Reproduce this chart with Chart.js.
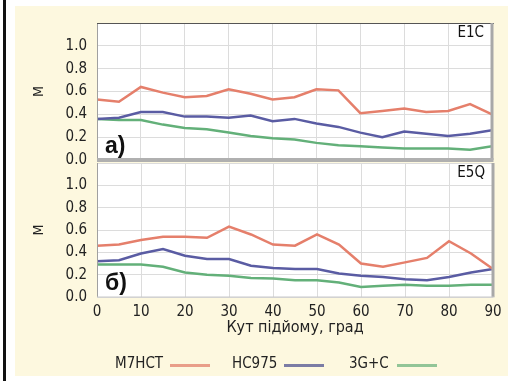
<!DOCTYPE html>
<html>
<head>
<meta charset="utf-8">
<script src="https://cdn.jsdelivr.net/npm/chart.js@4.4.0/dist/chart.umd.min.js"></script>
<style>
  body { margin: 0; background: #fff; }
  #wrap { position: relative; width: 521px; height: 381px; background: #fff; overflow: hidden; }
  .rule { position: absolute; left: 3px; top: 0; width: 3px; height: 381px; background: #111; }
  .cream { position: absolute; left: 15px; top: 6px; width: 493px; height: 370px; background: #fdf8df; }
  canvas { position: absolute; left: 0; }
  #topChart { top: 0; }
  #bottomChart { top: 140px; }
  .legend { position: absolute; top: 355px; left: 0; width: 521px; height: 16px;
    font: 15px "Liberation Sans Narrow", "DejaVu Sans Condensed", sans-serif; color: #222; }
  .legend span { position: absolute; top: 0; line-height: 16px; }
  .legend i { position: absolute; top: 9px; height: 3px; width: 40px; }
</style>
</head>
<body>
<div id="wrap">
  <div class="rule"></div>
  <div class="cream"></div>
  <canvas id="bottomChart" width="521" height="241"></canvas>
  <canvas id="topChart" width="521" height="180"></canvas>
  <div class="legend">
    <span style="left:115px">M7HCT</span><i style="left:170px;background:rgba(224,120,100,0.7)"></i>
    <span style="left:232px">HC975</span><i style="left:284px;background:rgba(90,92,150,0.8)"></i>
    <span style="left:349px">3G+C</span><i style="left:397px;background:rgba(100,175,120,0.7)"></i>
  </div>
</div>
<script>
// DATA
const angles = [0, 5, 10, 15, 20, 25, 30, 35, 40, 45, 50, 55, 60, 65, 70, 75, 80, 85, 90];
const seriesNames = ["M7HCT", "HC975", "3G+C"];

// PANEL A - E1C
const e1cM7hct = [0.53, 0.51, 0.64, 0.59, 0.55, 0.56, 0.62, 0.58, 0.53, 0.55, 0.62, 0.61, 0.41, 0.43, 0.45, 0.42, 0.43, 0.49, 0.40];
const e1cHc975 = [0.36, 0.37, 0.42, 0.42, 0.38, 0.38, 0.37, 0.39, 0.34, 0.36, 0.32, 0.29, 0.24, 0.20, 0.25, 0.23, 0.21, 0.23, 0.26];
const e1c3gc = [0.36, 0.35, 0.35, 0.31, 0.28, 0.27, 0.24, 0.21, 0.19, 0.18, 0.15, 0.13, 0.12, 0.11, 0.10, 0.10, 0.10, 0.09, 0.12];

// PANEL B - E5Q
const e5qM7hct = [0.46, 0.47, 0.51, 0.54, 0.54, 0.53, 0.63, 0.56, 0.47, 0.46, 0.56, 0.47, 0.30, 0.27, 0.31, 0.35, 0.50, 0.39, 0.25];
const e5qHc975 = [0.32, 0.33, 0.39, 0.43, 0.37, 0.34, 0.34, 0.28, 0.26, 0.25, 0.25, 0.21, 0.19, 0.18, 0.16, 0.15, 0.18, 0.22, 0.25];
const e5q3gc = [0.29, 0.29, 0.29, 0.27, 0.22, 0.20, 0.19, 0.17, 0.165, 0.15, 0.15, 0.13, 0.09, 0.10, 0.11, 0.10, 0.10, 0.11, 0.11];

const yTicks = [0, 0.2, 0.4, 0.6, 0.8, 1.0, 1.2];
const xTicks = [0, 10, 20, 30, 40, 50, 60, 70, 80, 90];

const colors = ["#e57f6b", "#5a5ca3", "#63b079"];
const narrow = '"Liberation Sans Narrow", "DejaVu Sans Condensed", sans-serif';

function toPoints(values) {
  return angles.map((a, i) => ({ x: a, y: values[i] }));
}

function makeDatasets(lists) {
  return lists.map((values, i) => ({
    label: seriesNames[i],
    data: toPoints(values),
    borderColor: colors[i],
    borderWidth: 2.5,
    pointRadius: 0,
    tension: 0,
  }));
}

// WHITE PLOT AREA + FRAME + PANEL LABELS
const panelFrame = {
  id: "panelFrame",
  beforeDraw(chart) {
    const { ctx, chartArea: a } = chart;
    ctx.save();
    ctx.fillStyle = "#fff";
    ctx.fillRect(a.left, a.top, a.right - a.left, a.bottom - a.top);
    ctx.restore();
  },
  afterDraw(chart, args, opts) {
    const { ctx, chartArea: a } = chart;
    ctx.save();
    // left
    ctx.strokeStyle = "#a0a0a0";
    ctx.lineWidth = 1;
    ctx.beginPath();
    ctx.moveTo(a.left + 0.5, a.top);
    ctx.lineTo(a.left + 0.5, a.bottom);
    ctx.stroke();
    // top
    if (opts.topLine) {
      ctx.strokeStyle = "#555";
      ctx.beginPath();
      ctx.moveTo(a.left, a.top + 0.5);
      ctx.lineTo(a.right + 2, a.top + 0.5);
      ctx.stroke();
    }
    // right
    ctx.strokeStyle = "#a8a8a8";
    ctx.lineWidth = 3;
    ctx.beginPath();
    ctx.moveTo(a.right, a.top);
    ctx.lineTo(a.right, a.bottom);
    ctx.stroke();
    // bottom
    ctx.strokeStyle = opts.bottomColor;
    ctx.lineWidth = opts.bottomWidth;
    ctx.beginPath();
    ctx.moveTo(a.left, a.bottom);
    ctx.lineTo(a.right + 1.5, a.bottom);
    ctx.stroke();

    // labels
    ctx.fillStyle = "#111";
    ctx.textBaseline = "middle";
    ctx.font = "15px " + narrow;
    ctx.textAlign = "right";
    ctx.fillText(opts.tag, a.right - 8, a.top + 10);
    ctx.font = "bold 23px 'Liberation Sans', Arial, sans-serif";
    ctx.textAlign = "left";
    ctx.fillText(opts.letter, a.left + 8, a.bottom - 13);
    ctx.restore();
  },
};

function baseOptions(showX, frame) {
  return {
    responsive: false,
    animation: false,
    events: [],
    plugins: { legend: { display: false }, tooltip: { enabled: false }, panelFrame: frame },
    scales: {
      x: {
        type: "linear",
        min: 0,
        max: 90,
        afterBuildTicks: (scale) => { scale.ticks = xTicks.map((v) => ({ value: v })); },
        grid: { color: "#dcdcdc", drawTicks: false },
        border: { display: false },
        ticks: {
          display: showX,
          autoSkip: false,
          padding: 6,
          color: "#222",
          font: { family: narrow, size: 15 },
        },
        title: {
          display: showX,
          text: "Кут підйому, град",
          color: "#222",
          font: { family: narrow, size: 16 },
          padding: { top: 0, bottom: 44 },
        },
      },
      y: {
        min: 0,
        max: 1.2,
        afterBuildTicks: (scale) => { scale.ticks = yTicks.map((v) => ({ value: v })); },
        afterFit: (scale) => { scale.width = 97; },
        grid: { color: "#dcdcdc", drawTicks: false },
        border: { display: false },
        ticks: {
          autoSkip: false,
          padding: 10,
          color: "#222",
          font: { family: narrow, size: 15 },
          callback: (v) => (v > 1.05 ? "" : v.toFixed(1)),
        },
        title: {
          display: true,
          text: "М",
          color: "#222",
          font: { family: narrow, size: 14 },
          padding: { top: 31, bottom: 0 },
        },
      },
    },
  };
}

// TOP PANEL
const topOpts = baseOptions(false, { tag: "E1C", letter: "a)", topLine: true, bottomColor: "#b0b0b0", bottomWidth: 4 });
topOpts.layout = { padding: { left: 0, top: 23, right: 29, bottom: 0 } };
topOpts.scales.x.afterFit = (scale) => { scale.height = 20; };

new Chart(document.getElementById("topChart"), {
  type: "line",
  data: { datasets: makeDatasets([e1cM7hct, e1cHc975, e1c3gc]) },
  options: topOpts,
  plugins: [panelFrame],
});

// BOTTOM PANEL
const bottomOpts = baseOptions(true, { tag: "E5Q", letter: "б)", topLine: false, bottomColor: "#c8c8c8", bottomWidth: 1 });
bottomOpts.layout = { padding: { left: 0, top: 23, right: 28, bottom: 0 } };
bottomOpts.scales.x.afterFit = (scale) => { scale.height = 84; };

new Chart(document.getElementById("bottomChart"), {
  type: "line",
  data: { datasets: makeDatasets([e5qM7hct, e5qHc975, e5q3gc]) },
  options: bottomOpts,
  plugins: [panelFrame],
});
</script>
</body>
</html>
